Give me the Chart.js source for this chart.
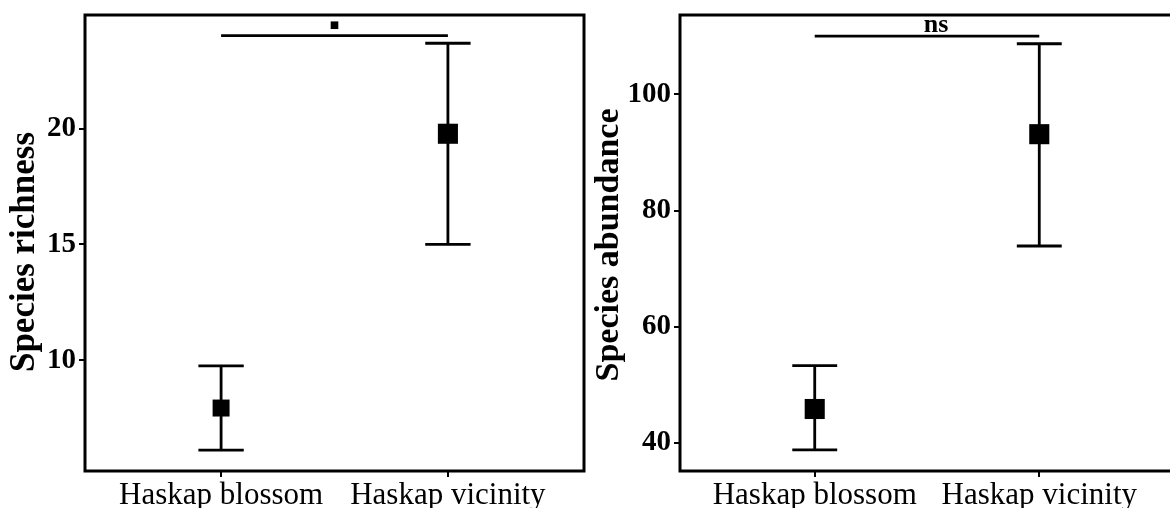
<!DOCTYPE html>
<html>
<head>
<meta charset="utf-8">
<script src="https://cdn.jsdelivr.net/npm/chart.js@4.4.1/dist/chart.umd.min.js"></script>
<style>
  html, body { margin: 0; padding: 0; background: #fff; overflow: hidden; width: 1170px; height: 508px; }
  #c1 { position: absolute; left: 0; top: 0; }
  #c2 { position: absolute; left: 590px; top: 0; }
</style>
</head>
<body>
<canvas id="c1" width="590" height="508"></canvas>
<canvas id="c2" width="590" height="508"></canvas>
<script>
// ---- Data ----
const categories = ['Haskap blossom', 'Haskap vicinity'];

const richnessMean  = [7.93, 19.78];
const richnessLower = [6.11, 15.0];
const richnessUpper = [9.75, 23.69];
const richnessTicks = [10, 15, 20];
const richnessSigY = 24.02;
const richnessSigLabel = '■';

const abundanceMean  = [45.85, 93.14];
const abundanceLower = [38.8, 73.9];
const abundanceUpper = [53.3, 108.7];
const abundanceTicks = [40, 60, 80, 100];
const abundanceSigY = 110.0;
const abundanceSigLabel = 'ns';

// ---- Plugins ----
const errorBarPlugin = {
  id: 'errbars',
  beforeDatasetsDraw(chart, args, opts) {
    const { ctx, scales: { x, y } } = chart;
    ctx.save();
    ctx.strokeStyle = '#000';
    ctx.lineWidth = 2.8;
    ctx.lineCap = 'butt';
    opts.lower.forEach((lo, i) => {
      const hi = opts.upper[i];
      const xv = i + 1;
      const px = x.getPixelForValue(xv);
      const pl = y.getPixelForValue(lo);
      const ph = y.getPixelForValue(hi);
      const c0 = x.getPixelForValue(xv - opts.capHalf);
      const c1 = x.getPixelForValue(xv + opts.capHalf);
      ctx.beginPath();
      ctx.moveTo(px, pl); ctx.lineTo(px, ph);
      ctx.moveTo(c0, pl); ctx.lineTo(c1, pl);
      ctx.moveTo(c0, ph); ctx.lineTo(c1, ph);
      ctx.stroke();
    });
    // significance bracket
    const sy = y.getPixelForValue(opts.sigY);
    ctx.beginPath();
    ctx.moveTo(x.getPixelForValue(1), sy);
    ctx.lineTo(x.getPixelForValue(2), sy);
    ctx.stroke();
    ctx.fillStyle = '#000';
    ctx.font = opts.sigFont;
    ctx.textAlign = 'center';
    ctx.textBaseline = opts.sigBaseline;
    ctx.fillText(opts.sigLabel, x.getPixelForValue(1.5) + opts.sigDx, sy - opts.sigGap);
    ctx.restore();
  },
  afterDraw(chart, args, opts) {
    const { ctx, chartArea: a } = chart;
    ctx.save();
    ctx.strokeStyle = '#000';
    ctx.lineWidth = 3;
    ctx.strokeRect(a.left, a.top, a.right - a.left, a.bottom - a.top);
    // y-axis title
    ctx.fillStyle = '#000';
    ctx.font = opts.titleFont;
    ctx.textAlign = 'center';
    ctx.textBaseline = 'middle';
    ctx.translate(opts.titleX, (a.top + a.bottom) / 2 + opts.titleDy);
    ctx.rotate(-Math.PI / 2);
    ctx.fillText(opts.title, 0, 0);
    ctx.restore();
  }
};

function makeChart(id, cfg) {
  const pts = cfg.mean.map((m, i) => ({ x: i + 1, y: m }));
  return new Chart(document.getElementById(id), {
    type: 'scatter',
    data: {
      datasets: [{
        data: pts,
        pointStyle: 'rect',
        pointRadius: cfg.radii,
        pointHoverRadius: cfg.radii,
        backgroundColor: '#000',
        borderColor: '#000',
        borderWidth: 0
      }]
    },
    plugins: [errorBarPlugin],
    options: {
      responsive: false,
      animation: false,
      devicePixelRatio: 1,
      layout: { autoPadding: false, padding: { left: 0, top: 15, right: 6, bottom: 0 } },
      plugins: {
        legend: { display: false },
        tooltip: { enabled: false },
        errbars: {
          lower: cfg.lower, upper: cfg.upper, capHalf: 0.1,
          sigY: cfg.sigY, sigLabel: cfg.sigLabel, sigFont: cfg.sigFont,
          sigGap: cfg.sigGap, sigDx: cfg.sigDx, sigBaseline: cfg.sigBaseline,
          title: cfg.title, titleFont: cfg.titleFont, titleX: cfg.titleX, titleDy: cfg.titleDy
        }
      },
      scales: {
        x: {
          type: 'linear',
          min: 0.4, max: 2.6,
          afterBuildTicks: (s) => { s.ticks = categories.map((c, i) => ({ value: i + 1 })); },
          afterFit: (s) => { s.height = 37; s.paddingLeft = 0; s.paddingRight = 0; },
          grid: { display: true, drawOnChartArea: false, drawTicks: true, tickLength: 6, color: '#000', lineWidth: 2 },
          border: { display: false },
          ticks: {
            autoSkip: false, maxRotation: 0, padding: 0, color: '#000',
            font: { family: 'Liberation Serif', size: 31 },
            callback: (v) => categories[Math.round(v) - 1] || ''
          }
        },
        y: {
          type: 'linear',
          min: cfg.range[0], max: cfg.range[1],
          afterBuildTicks: (s) => { s.ticks = cfg.ticks.map(v => ({ value: v })); },
          afterFit: (s) => { s.width = cfg.yWidth; s.paddingTop = 0; s.paddingBottom = 0; },
          grid: { display: true, drawOnChartArea: false, drawTicks: true, tickLength: 6, color: '#000', lineWidth: 2 },
          border: { display: false },
          ticks: {
            padding: 3, color: '#000',
            font: { family: 'Liberation Serif', size: 29, weight: 'bold' }
          },
          title: { display: false }
        }
      }
    }
  });
}

makeChart('c1', {
  mean: richnessMean, lower: richnessLower, upper: richnessUpper,
  ticks: richnessTicks, range: [5.21, 24.91],
  sigY: richnessSigY, sigLabel: richnessSigLabel,
  sigFont: 'bold 10px "DejaVu Sans"', sigGap: 5, sigDx: 0, sigBaseline: 'bottom',
  radii: [12, 14.2], yWidth: 85,
  title: 'Species richness', titleFont: 'bold 35px "Liberation Serif"', titleX: 24.5, titleDy: 9
});

makeChart('c2', {
  mean: abundanceMean, lower: abundanceLower, upper: abundanceUpper,
  ticks: abundanceTicks, range: [35.18, 113.65],
  sigY: abundanceSigY, sigLabel: abundanceSigLabel,
  sigFont: 'bold 26px "Liberation Serif"', sigGap: 4, sigDx: 9, sigBaseline: 'alphabetic',
  radii: [14.2, 14.2], yWidth: 90,
  title: 'Species abundance', titleFont: 'bold 34px "Liberation Serif"', titleX: 19, titleDy: 2
});
</script>
</body>
</html>
